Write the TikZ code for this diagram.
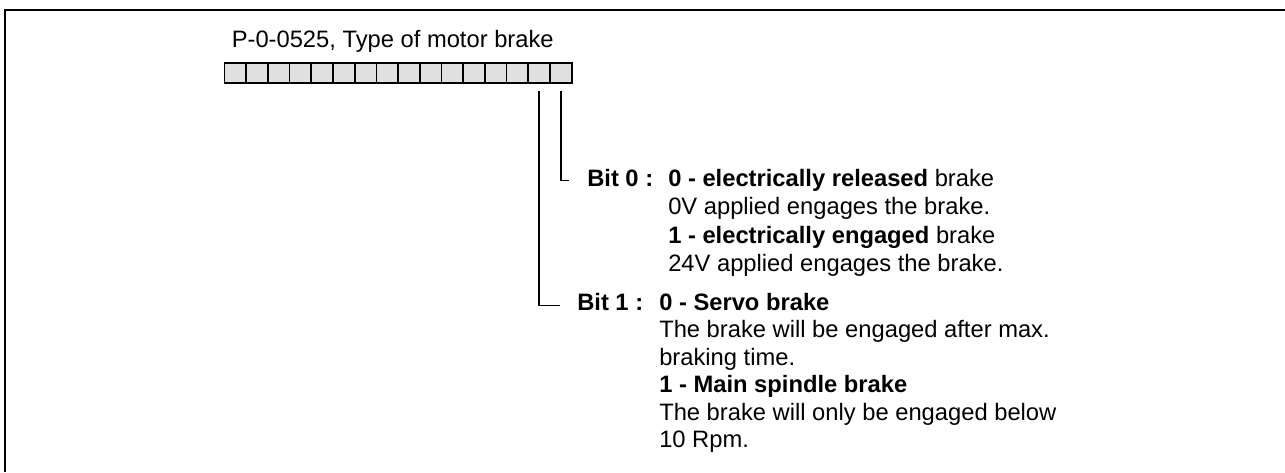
\documentclass[tikz,border=0pt]{standalone}
\usepackage{fontspec}
\setmainfont{Liberation Sans}
\begin{document}
\begin{tikzpicture}[x=0.75pt,y=-0.75pt,
  cell/.style={draw=black,fill=black!12,line width=1.3pt,minimum width=16.3pt,minimum height=15.45pt,inner sep=0pt,outer sep=0pt},
  txt/.style={anchor=base west,inner sep=0pt,font=\fontsize{17.8}{21}\selectfont},
  lbl/.style={anchor=base west,inner sep=0pt,font=\fontsize{17.8}{21}\selectfont\bfseries},
  conn/.style={line width=1pt}]
\useasboundingbox (0,0) rectangle (1285,472);
\draw[line width=1.5pt] (4.5,472) -- (4.5,9.5) -- (1285,9.5);
\node[txt] (title) at (231.5,47.3) {P-0-0525, Type of motor brake};
\foreach \i in {1,...,16} \node[cell] (c\i) at ({224.5+21.7*(\i-0.5)},73) {};
\node[lbl] (b0) at (587,186) {Bit 0 :};
\node[txt] (b0a) at (668,186) {\textbf{0 - electrically released} brake};
\node[txt] (b0b) at (668,214.5) {0V applied engages the brake.};
\node[txt] (b0c) at (668,243) {\textbf{1 - electrically engaged} brake};
\node[txt] (b0d) at (668,271.5) {24V applied engages the brake.};
\node[lbl] (b1) at (577,310) {Bit 1 :};
\node[txt] (b1a) at (659,310) {\textbf{0 - Servo brake}};
\node[txt] (b1b) at (659,337.5) {The brake will be engaged after max.};
\node[txt] (b1c) at (659,365) {braking time.};
\node[txt] (b1d) at (659,392.5) {\textbf{1 - Main spindle brake}};
\node[txt] (b1e) at (659,420) {The brake will only be engaged below};
\node[txt] (b1f) at (659,447.5) {10 Rpm.};
\coordinate (e0) at (569,180.5);
\coordinate (e1) at (560,305.5);
\draw[conn] ([yshift=-6pt]c16.south) |- (e0);
\draw[conn] ([yshift=-6pt]c15.south) |- (e1);
\end{tikzpicture}
\end{document}
